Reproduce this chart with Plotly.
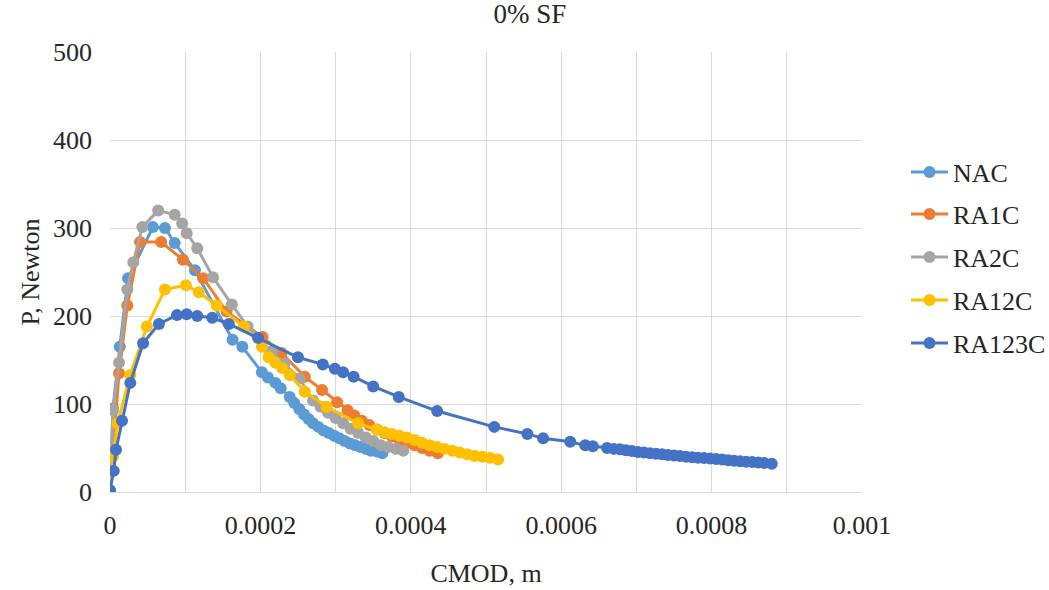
import numpy as np
import plotly.graph_objects as go

# CMOD values in units of 1e-4 m, loads in Newton
nac_x = [0, 0.04, 0.13, 0.24, 0.57, 0.73, 0.86, 1.13, 1.63, 1.76, 2.02, 2.10, 2.20, 2.27, 2.39,
         2.45, 2.52, 2.58, 2.64, 2.70, 2.77, 2.84, 2.91, 2.98, 3.05, 3.12, 3.19, 3.26, 3.33,
         3.40, 3.47, 3.55, 3.62]
nac_y = [0, 95, 165, 243, 301, 300, 283, 252, 173, 165, 136, 130, 124, 118, 108,
         101, 94, 88, 83, 78, 74, 70, 67, 64, 61, 58, 55, 53, 51, 49, 47, 46, 44]

ra1c_x = [0, 0.04, 0.12, 0.23, 0.40, 0.68, 0.97, 1.24, 1.55, 2.03, 2.28, 2.59, 2.82, 3.02, 3.16,
          3.25, 3.35, 3.45, 3.55, 3.65, 3.75, 3.85, 3.95, 4.05, 4.15, 4.25, 4.36]
ra1c_y = [0, 45, 135, 212, 284, 284, 264, 243, 205, 176, 158, 131, 116, 102, 93,
          87, 81, 76, 71, 67, 63, 59, 56, 53, 50, 47, 44]

ra2c_x = [0, 0.04, 0.12, 0.23, 0.31, 0.43, 0.64, 0.86, 0.96, 1.02, 1.16, 1.37, 1.62, 1.83,
          2.15, 2.32, 2.52, 2.70, 2.80, 2.90, 3.00, 3.10, 3.20, 3.30, 3.40, 3.50, 3.60,
          3.70, 3.80, 3.90]
ra2c_y = [0, 93, 147, 230, 261, 301, 320, 315, 305, 294, 277, 244, 213, 188,
          160, 146, 129, 104, 97, 90, 84, 78, 72, 67, 62, 58, 53, 51, 49, 47]

ra12c_x = [0, 0.04, 0.10, 0.27, 0.49, 0.73, 1.01, 1.18, 1.42, 1.78, 2.02, 2.11, 2.20, 2.29,
           2.39, 2.59, 2.88, 3.30, 3.55, 3.65, 3.75, 3.85, 3.95, 4.05, 4.15, 4.25, 4.35,
           4.45, 4.55, 4.65, 4.75, 4.85, 4.95, 5.05, 5.16]
ra12c_y = [0, 40, 78, 133, 188, 230, 235, 227, 212, 188, 165, 153, 147, 141, 133,
           114, 97, 78, 71, 68, 66, 64, 62, 59, 56, 53, 51, 49, 47, 45, 43, 41, 40, 39, 37]

ra123c_x = [0, 0.05, 0.08, 0.16, 0.27, 0.44, 0.65, 0.89, 1.02, 1.16, 1.36, 1.58, 1.97, 2.50,
            2.83, 2.99, 3.10, 3.24, 3.50, 3.84, 4.35, 5.11, 5.55, 5.76, 6.12, 6.32, 6.42,
            6.61, 6.70, 6.78, 6.86, 6.94, 7.02, 7.10, 7.18, 7.26, 7.34, 7.42, 7.50, 7.58,
            7.66, 7.74, 7.82, 7.90, 7.98, 8.06, 8.14, 8.22, 8.30, 8.38, 8.46, 8.54, 8.62,
            8.70, 8.80]
ra123c_y = [2, 24, 48, 81, 124, 169, 191, 201, 202, 200, 198, 191, 175, 153,
            145, 140, 136, 131, 120, 108, 92, 74, 66, 61, 57, 53, 52,
            50, 49, 48.5, 47.5, 46.5, 45.5, 45, 44, 43.5, 43, 42, 41.5, 41,
            40, 39.5, 39, 38.5, 38, 37.5, 37, 36, 35.5, 35, 34.5, 34, 33.5,
            33, 32]

series_names = ["NAC", "RA1C", "RA2C", "RA12C", "RA123C"]
series_colors = ["#5B9BD5", "#ED7D31", "#A5A5A5", "#FFC000", "#4472C4"]
series_x = [nac_x, ra1c_x, ra2c_x, ra12c_x, ra123c_x]
series_y = [nac_y, ra1c_y, ra2c_y, ra12c_y, ra123c_y]

x_tick_vals = [0, 0.0002, 0.0004, 0.0006, 0.0008, 0.001]
x_tick_text = ["0", "0.0002", "0.0004", "0.0006", "0.0008", "0.001"]
y_tick_vals = [0, 100, 200, 300, 400, 500]

FONT = "Times New Roman, Liberation Serif, Times, serif"
TXT = "#262626"
FS = 26

fig = go.Figure()
legend_ids = ["legend", "legend2", "legend3", "legend4", "legend5"]
legend_py = [172, 214, 257, 300, 343]

for name, color, xs, ys, lg in zip(series_names, series_colors, series_x, series_y, legend_ids):
    fig.add_trace(go.Scatter(
        x=np.array(xs) * 1e-4, y=ys, name=name, mode="lines+markers",
        line=dict(color=color, width=3),
        marker=dict(color=color, size=12),
        legend=lg,
    ))

layout_legends = {}
for lg, py in zip(legend_ids, legend_py):
    layout_legends[lg] = dict(
        x=(906 - 110) / 752, xanchor="left", y=(492 - py) / 440, yanchor="middle",
        font=dict(family=FONT, size=FS, color=TXT),
        itemwidth=37,
        bgcolor="rgba(0,0,0,0)", borderwidth=0,
    )

fig.update_layout(
    width=1049, height=590,
    margin=dict(l=110, r=187, t=52, b=98, autoexpand=False),
    paper_bgcolor="white", plot_bgcolor="white",
    title=dict(text="0% SF", x=530 / 1049, xanchor="center",
               y=1 - 14 / 590, yanchor="middle",
               font=dict(family=FONT, size=27, color=TXT)),
    font=dict(family=FONT, color=TXT),
    showlegend=True,
    **layout_legends,
)

fig.update_xaxes(
    range=[0, 0.001], tickvals=x_tick_vals, ticktext=x_tick_text,
    showgrid=True, gridcolor="#D9D9D9", gridwidth=1,
    minor=dict(dtick=0.0001, showgrid=True, gridcolor="#D9D9D9", gridwidth=1),
    showline=True, linecolor="#D9D9D9", linewidth=1, zeroline=False,
    ticks="", ticklabelstandoff=10, automargin=False,
    tickfont=dict(family=FONT, size=FS, color=TXT),
    title=dict(text="CMOD, m", font=dict(family=FONT, size=FS, color=TXT), standoff=24),
)
fig.update_yaxes(
    range=[0, 500], tickvals=y_tick_vals,
    showgrid=True, gridcolor="#D9D9D9", gridwidth=1, zeroline=False,
    showline=False, ticks="", ticklabelstandoff=17, automargin=False,
    tickfont=dict(family=FONT, size=FS, color=TXT),
    title=dict(text="P, Newton", font=dict(family=FONT, size=FS, color=TXT), standoff=5),
)

fig.write_html("out.html")
